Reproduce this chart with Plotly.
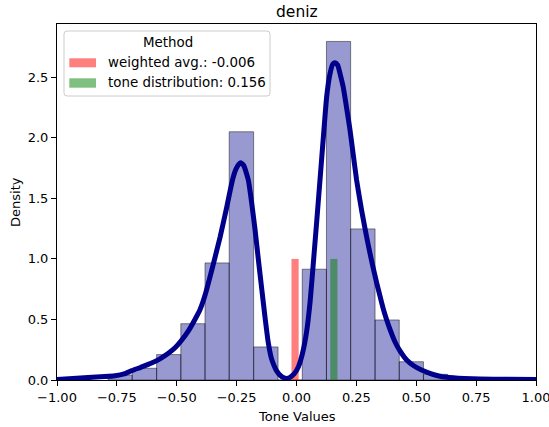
import plotly.graph_objects as go

# ---------------- data ----------------
bin_edges = [-0.787, -0.686, -0.584, -0.483, -0.382, -0.281, -0.179, -0.077,
             0.024, 0.125, 0.226, 0.328, 0.429, 0.530, 0.631]
bin_density = [0.04, 0.097, 0.21, 0.465, 0.967, 2.05, 0.273, 0.0,
               0.915, 2.796, 1.248, 0.496, 0.151, 0.047]

kde_x = [-1.0, -0.87, -0.80, -0.758, -0.72, -0.688, -0.65, -0.605, -0.57, -0.535,
         -0.505, -0.479, -0.45, -0.424, -0.403, -0.382, -0.347, -0.319, -0.291, -0.271,
         -0.257, -0.245, -0.233, -0.22, -0.201, -0.187, -0.173, -0.159, -0.145, -0.131,
         -0.118, -0.105, -0.094, -0.083, -0.069, -0.055, -0.041, -0.027, -0.01, 0.008,
         0.025, 0.043, 0.057, 0.070, 0.084, 0.098, 0.112, 0.126, 0.14, 0.152,
         0.161, 0.172, 0.183, 0.195, 0.209, 0.223, 0.237, 0.251, 0.272, 0.293,
         0.314, 0.335, 0.349, 0.362, 0.376, 0.390, 0.41, 0.432, 0.46, 0.488,
         0.52, 0.557, 0.59, 0.627, 0.70, 0.766, 0.88, 1.0]
kde_y = [0.005, 0.02, 0.028, 0.035, 0.05, 0.077, 0.105, 0.14, 0.175, 0.22,
         0.27, 0.33, 0.41, 0.50, 0.58, 0.70, 0.96, 1.18, 1.43, 1.62,
         1.72, 1.77, 1.795, 1.77, 1.65, 1.46, 1.24, 0.99, 0.75, 0.51,
         0.31, 0.18, 0.12, 0.075, 0.04, 0.02, 0.013, 0.022, 0.05, 0.11,
         0.22, 0.41, 0.65, 0.96, 1.30, 1.65, 2.00, 2.34, 2.53, 2.61,
         2.62, 2.60, 2.52, 2.42, 2.25, 2.07, 1.86, 1.65, 1.40, 1.18,
         0.98, 0.80, 0.69, 0.59, 0.50, 0.42, 0.32, 0.24, 0.165, 0.12,
         0.085, 0.055, 0.035, 0.022, 0.012, 0.008, 0.006, 0.005]

weighted_avg = -0.006
tone_distribution = 0.156
marker_height = 1.0

x_ticks = [-1.0, -0.75, -0.5, -0.25, 0.0, 0.25, 0.5, 0.75, 1.0]
y_ticks = [0.0, 0.5, 1.0, 1.5, 2.0, 2.5]

# ---------------- figure ----------------
W, H = 549, 427
L, R, T, B = 57, 13, 24, 47
FONT = "DejaVu Sans"

centers = [(a + b) / 2 for a, b in zip(bin_edges[:-1], bin_edges[1:])]
widths = [b - a for a, b in zip(bin_edges[:-1], bin_edges[1:])]

fig = go.Figure()
fig.add_trace(go.Bar(x=centers, y=bin_density, width=widths,
                     marker=dict(color="rgba(0,0,139,0.4)",
                                 line=dict(color="rgba(0,0,0,0.45)", width=1)),
                     showlegend=False))
fig.add_trace(go.Bar(x=[weighted_avg], y=[marker_height], width=[0.03],
                     marker=dict(color="rgba(255,0,0,0.5)", line=dict(width=0)),
                     showlegend=False))
fig.add_trace(go.Bar(x=[tone_distribution], y=[marker_height], width=[0.03],
                     marker=dict(color="rgba(0,128,0,0.5)", line=dict(width=0)),
                     showlegend=False))
fig.add_trace(go.Scatter(x=kde_x, y=kde_y, mode="lines",
                         line=dict(color="#00008b", width=5, shape="spline", smoothing=0.5),
                         showlegend=False))


def fmt(v, d):
    s = f"{v:.{d}f}"
    return s.replace("-", "\u2212")


pw = W - L - R
ph = H - T - B


def px2x(px):
    return (px - L) / pw


def py2y(py):
    return (H - B - py) / ph


axis_common = dict(showline=True, linecolor="black", linewidth=1, mirror=True,
                   ticks="outside", ticklen=5, tickwidth=1, tickcolor="black",
                   showgrid=False, zeroline=False, ticklabeloverflow="allow",
                   tickfont=dict(family=FONT, size=13, color="black"))

fig.update_layout(
    width=W, height=H,
    margin=dict(l=L, r=R, t=T, b=B, autoexpand=False),
    paper_bgcolor="white", plot_bgcolor="white",
    barmode="overlay",
    font=dict(family=FONT, size=13, color="black"),
    xaxis=dict(range=[-1, 1], tickvals=x_ticks,
               ticktext=[fmt(v, 2) for v in x_ticks], **axis_common),
    yaxis=dict(range=[0, 2.94], tickvals=y_ticks,
               ticktext=[fmt(v, 1) for v in y_ticks], **axis_common),
)

LEG = 13.4
annotations = [
    dict(text="deniz", x=0.5, y=py2y(12), xref="paper", yref="paper",
         showarrow=False, font=dict(size=15.5), xanchor="center", yanchor="middle"),
    dict(text="Tone Values", x=0.5, y=py2y(416), xref="paper", yref="paper",
         showarrow=False, xanchor="center", yanchor="middle"),
    dict(text="Density", x=px2x(15), y=0.5, xref="paper", yref="paper",
         showarrow=False, textangle=-90, xanchor="center", yanchor="middle"),
    dict(text="Method", x=px2x(167.5), y=py2y(42), xref="paper", yref="paper",
         showarrow=False, xanchor="center", yanchor="middle", font=dict(size=LEG)),
    dict(text=f"weighted avg.: {weighted_avg:.3f}", x=px2x(105.5), y=py2y(62.7),
         xref="paper", yref="paper", showarrow=False, xanchor="left", yanchor="middle",
         font=dict(size=LEG)),
    dict(text=f"tone distribution: {tone_distribution:.3f}", x=px2x(105.5), y=py2y(82.7),
         xref="paper", yref="paper", showarrow=False, xanchor="left", yanchor="middle",
         font=dict(size=LEG)),
]

# legend frame with rounded corners (pixels -> paper)
x0, x1, y0, y1 = 64, 270, 31, 96
r = 3
pts = [("M", x0 + r, y0), ("L", x1 - r, y0), ("Q", x1, y0), ("", x1, y0 + r),
       ("L", x1, y1 - r), ("Q", x1, y1), ("", x1 - r, y1), ("L", x0 + r, y1),
       ("Q", x0, y1), ("", x0, y1 - r), ("L", x0, y0 + r), ("Q", x0, y0), ("", x0 + r, y0)]
path = " ".join(f"{c} {px2x(a):.5f},{py2y(b):.5f}".strip() for c, a, b in pts) + " Z"
shapes = [
    dict(type="path", path=path, xref="paper", yref="paper",
         line=dict(color="#cccccc", width=1), fillcolor="rgba(255,255,255,0.8)", layer="above"),
]
for (ya, yb), col in [((58.3, 67.3), "rgba(255,0,0,0.5)"), ((78.3, 87.7), "rgba(0,128,0,0.5)")]:
    shapes.append(dict(type="rect", xref="paper", yref="paper",
                       x0=px2x(69.3), x1=px2x(96), y0=py2y(yb), y1=py2y(ya),
                       fillcolor=col, line=dict(width=0), layer="above"))

fig.update_layout(annotations=annotations, shapes=shapes)
fig.write_html("out.html", config={"displayModeBar": False},
               post_script="document.body.style.margin='0';document.body.style.padding='0';")
